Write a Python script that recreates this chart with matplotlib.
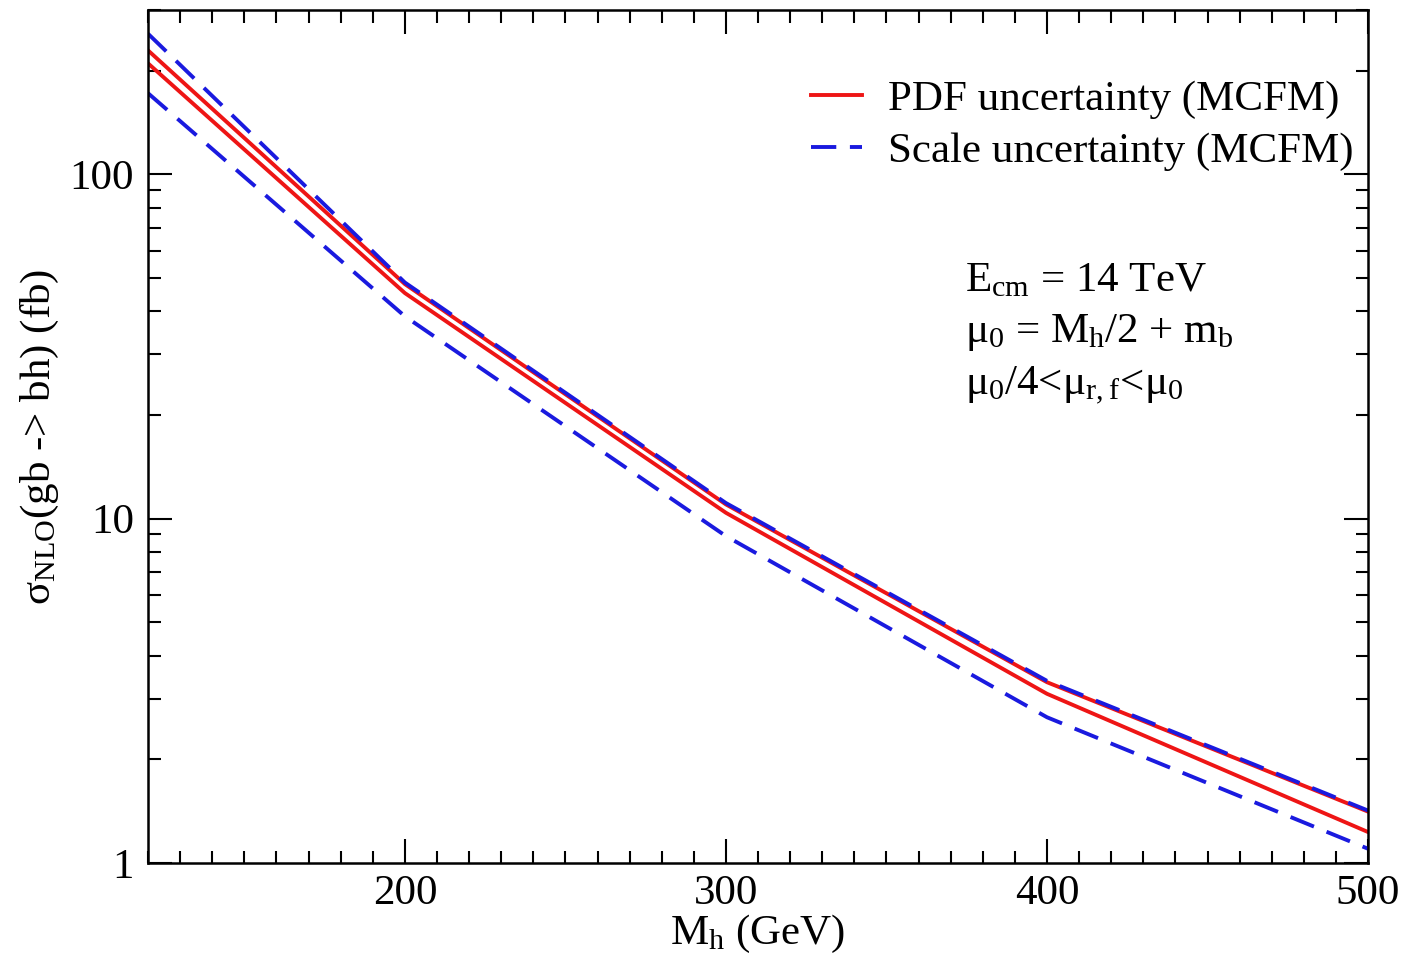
import matplotlib
matplotlib.use("Agg")
import matplotlib.pyplot as plt
from matplotlib.ticker import MultipleLocator, LogLocator, FixedLocator, NullFormatter

# ── Data ─────────────────────────────────────────────────────────────────────
mh = [120, 200, 300, 400, 500]                    # Higgs mass (GeV)
pdf_up = [229, 48.0, 11.0, 3.35, 1.41]            # PDF uncertainty, upper edge (fb)
pdf_lo = [210, 45.2, 10.4, 3.10, 1.23]            # PDF uncertainty, lower edge (fb)
scale_up = [256, 48.5, 11.1, 3.38, 1.42]          # scale uncertainty, upper edge (fb)
scale_lo = [172, 38.7, 8.9, 2.65, 1.10]           # scale uncertainty, lower edge (fb)

x_ticks = [200, 300, 400, 500]
y_ticks = [1, 10, 100]
y_ticklabels = ["1", "10", "100"]

plt.rcParams["font.family"] = ["Liberation Serif", "DejaVu Serif"]
plt.rcParams["mathtext.fontset"] = "custom"
plt.rcParams["mathtext.rm"] = "Liberation Serif"
plt.rcParams["mathtext.default"] = "regular"

FS = 31
RED = "#ee1515"
BLUE = "#1a1adf"

fig = plt.figure(figsize=(14.06, 9.65), dpi=100)
ax = fig.add_axes([0.1053, 0.1057, 0.973 - 0.1053, 0.9896 - 0.1057])

lw = 2.8
ax.plot(mh, pdf_up, color=RED, lw=lw, label="PDF uncertainty (MCFM)")
ax.plot(mh, pdf_lo, color=RED, lw=lw)
ax.plot(mh, scale_up, color=BLUE, lw=lw, dashes=(6.5, 3.5), label="Scale uncertainty (MCFM)")
ax.plot(mh, scale_lo, color=BLUE, lw=lw, dashes=(6.5, 3.5))

ax.set_yscale("log")
ax.set_xlim(120, 500)
ax.set_ylim(1, 300)

ax.xaxis.set_major_locator(FixedLocator(x_ticks))
ax.xaxis.set_minor_locator(MultipleLocator(10))
ax.yaxis.set_major_locator(FixedLocator(y_ticks))
ax.set_yticklabels(y_ticklabels)
ax.yaxis.set_minor_locator(LogLocator(base=10, subs=range(2, 10)))
ax.yaxis.set_minor_formatter(NullFormatter())

ax.tick_params(which="both", direction="in", top=True, right=True, width=1.5,
               labelsize=FS, colors="black")
ax.tick_params(which="major", length=17)
ax.tick_params(which="minor", length=9)
ax.tick_params(axis="y", which="major", pad=10)
ax.tick_params(axis="x", which="major", pad=8)
for s in ax.spines.values():
    s.set_linewidth(1.8)

ax.set_xlabel("M$_h$ (GeV)", fontsize=FS, labelpad=0)
ax.set_ylabel(r"$\sigma_{NLO}$(gb -> bh) (fb)", fontsize=FS, labelpad=6)

ax.legend(loc="upper left", bbox_to_anchor=(0.543, 0.918), frameon=False,
          fontsize=FS, handlelength=1.2, handletextpad=0.6, labelspacing=0.3,
          borderpad=0, borderaxespad=0)

ax.text(0.670, 0.705, "E$_{cm}$ = 14 TeV\n"
        "μ$_0$ = M$_h$/2 + m$_b$\n"
        "μ$_0$/4<μ$_{r,f}$<μ$_0$",
        transform=ax.transAxes, fontsize=FS, va="top", ha="left", linespacing=1.4)

fig.savefig("out.png", dpi=100)
